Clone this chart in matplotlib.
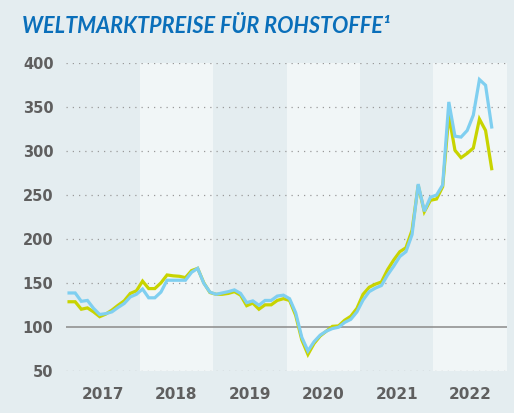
import numpy as np
import matplotlib
matplotlib.use("Agg")
import matplotlib.pyplot as plt

# monthly index values, Jan 2017 .. Oct 2022
years = [2017, 2018, 2019, 2020, 2021, 2022]
yellow_vals = [
    128.5, 128.5, 120, 121.5, 117, 111.5, 114.5, 119, 124.5, 129.5, 138, 141,
    152, 143.5, 143.5, 150, 159, 158, 157.5, 156, 164, 166.5, 150, 139,
    137, 137, 138, 140, 136, 124, 127, 120, 125, 125, 130, 132,
    130, 113, 85, 68.5, 81, 89.5, 95, 100.5, 101, 107.5, 112, 121,
    137, 145, 148.5, 151, 165, 176, 185.5, 190, 210, 261, 231, 244,
    245.5, 259.5, 341, 301, 292.5, 297.5, 303.5, 336.5, 323.5, 280,
]
blue_vals = [
    138.5, 138.5, 129, 130, 121, 114, 115, 117, 122, 126.5, 134, 137,
    143, 133, 133, 139.5, 153, 153, 153, 153, 162, 166.5, 149.5, 139.5,
    137, 138.5, 140, 142, 138, 127.5, 129.5, 124.5, 130, 130, 135, 136,
    132, 116, 88, 72.5, 83, 90.5, 95, 98, 99.5, 105, 108.5, 117,
    130.5, 140, 144, 147, 159, 169, 180, 185.5, 205, 262.5, 231.5, 247.5,
    250, 261.5, 356, 317, 316, 323.5, 341, 381.5, 375, 327.5,
]
y_ticks = [50, 100, 150, 200, 250, 300, 350, 400]

bg = "#e4edf0"
band = "#f1f6f7"
grey = "#5f5f5f"

fig = plt.figure(figsize=(5.14, 4.13), dpi=100, facecolor=bg)
ax = fig.add_axes([66 / 514, 1 - 370.7 / 413, 441 / 514, 307.4 / 413])
ax.set_facecolor(bg)

# lighter background for every second year
for k, yr in enumerate(years):
    if k % 2 == 1:
        ax.axvspan(12 * k - 0.5, 12 * k + 11.5, color=band, lw=0, zorder=0)

for v in y_ticks:
    if v == 100:
        ax.axhline(v, color="#8a8a8a", lw=1.1, zorder=1)
    else:
        ax.axhline(v, color="#9a9a9a", lw=0.9, ls=(0, (1, 4)), zorder=1)

x = np.arange(len(yellow_vals))
ax.plot(x, yellow_vals, color="#c8d400", lw=2.3, zorder=3, solid_joinstyle="miter")
ax.plot(np.arange(len(blue_vals)), blue_vals, color="#7fcff0", lw=2.3, zorder=4,
        solid_joinstyle="miter")

ax.set_xlim(-0.5, 71.5)
ax.set_ylim(50, 400)
ax.set_yticks(y_ticks)
ax.set_xticks([12 * k + 5.5 for k in range(len(years))])
ax.set_xticklabels([str(y) for y in years])
ax.tick_params(length=0, colors=grey)
ax.tick_params(axis="y", pad=9, labelsize=10.5)
ax.tick_params(axis="x", pad=12, labelsize=11)
for lab in ax.get_xticklabels() + ax.get_yticklabels():
    lab.set_fontweight("bold")
for s in ax.spines.values():
    s.set_visible(False)

fig.text(22 / 514, 1 - 33 / 413, "WELTMARKTPREISE FÜR ROHSTOFFE¹",
         color="#0a6fba", fontsize=15.6, fontweight="bold", style="italic",
         family="Lato", va="baseline", ha="left")

fig.savefig("out.png", dpi=100, facecolor=bg)
